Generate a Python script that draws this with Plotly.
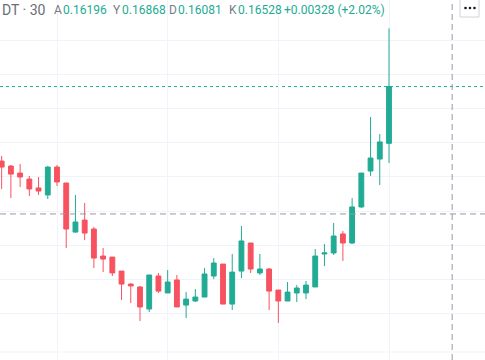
import plotly.graph_objects as go

W, H = 485, 360

# ---- data (bar index, OHLC) ----
bars = list(range(43))
opens = [0.16092, 0.16063, 0.16022, 0.15987, 0.15935, 0.15894, 0.16057, 0.15964, 0.15677, 0.15747,
         0.15695, 0.15537, 0.15531, 0.15449, 0.15373, 0.15356, 0.15227, 0.15420, 0.15321, 0.15397,
         0.15250, 0.15274, 0.15297, 0.15420, 0.15490, 0.15256, 0.15449, 0.15613, 0.15438, 0.15461,
         0.15338, 0.15274, 0.15321, 0.15321, 0.15356, 0.15549, 0.15555, 0.15666, 0.15613, 0.15824,
         0.16034, 0.16104, 0.16196]
highs = [0.16122, 0.16069, 0.16075, 0.16005, 0.15999, 0.16063, 0.16069, 0.15964, 0.15894, 0.15847,
         0.15707, 0.15584, 0.15531, 0.15449, 0.15379, 0.15362, 0.15426, 0.15438, 0.15455, 0.15426,
         0.15326, 0.15344, 0.15467, 0.15525, 0.15490, 0.15549, 0.15712, 0.15613, 0.15549, 0.15467,
         0.15338, 0.15385, 0.15367, 0.15391, 0.15578, 0.15607, 0.15730, 0.15683, 0.15876, 0.16022,
         0.16350, 0.16250, 0.16868]
lows = [0.15929, 0.15876, 0.15940, 0.15888, 0.15894, 0.15870, 0.15946, 0.15584, 0.15674, 0.15630,
        0.15467, 0.15443, 0.15420, 0.15280, 0.15262, 0.15157, 0.15209, 0.15321, 0.15321, 0.15239,
        0.15174, 0.15268, 0.15297, 0.15402, 0.15256, 0.15221, 0.15408, 0.15438, 0.15426, 0.15221,
        0.15145, 0.15274, 0.15268, 0.15285, 0.15356, 0.15478, 0.15543, 0.15508, 0.15607, 0.15818,
        0.16005, 0.15952, 0.16081]
closes = [0.16057, 0.16016, 0.15999, 0.15929, 0.15917, 0.16057, 0.15970, 0.15695, 0.15736, 0.15671,
          0.15525, 0.15519, 0.15438, 0.15373, 0.15362, 0.15239, 0.15426, 0.15332, 0.15385, 0.15239,
          0.15285, 0.15297, 0.15432, 0.15496, 0.15256, 0.15443, 0.15625, 0.15461, 0.15461, 0.15332,
          0.15274, 0.15326, 0.15350, 0.15367, 0.15537, 0.15555, 0.15654, 0.15613, 0.15824, 0.16022,
          0.16110, 0.16204, 0.16528]

symbol_label = "DT · 30"
ohlc_letters = ["A", "Y", "D", "K"]
change_text = "+0.00328 (+2.02%)"

grid_prices = [0.152, 0.154, 0.156, 0.158, 0.160, 0.162, 0.164, 0.166, 0.168]
grid_bars = [6, 18, 30, 42]
crosshair_bar = 48.85
crosshair_price = 0.15783

UP = "#22AB94"
DOWN = "#F7525F"
GRID = "#F0F3FA"
LABEL = "#787B86"

fig = go.Figure()
fig.add_trace(go.Candlestick(
    x=bars, open=opens, high=highs, low=lows, close=closes,
    increasing=dict(line=dict(color=UP, width=1), fillcolor=UP),
    decreasing=dict(line=dict(color=DOWN, width=1), fillcolor=DOWN),
    whiskerwidth=0, showlegend=False, hoverinfo="skip",
))

def px(x, y):
    return x / W, 1 - y / H

shapes = []
# price line at last close
shapes.append(dict(type="line", xref="paper", x0=0, x1=1, yref="y",
                   y0=closes[-1], y1=closes[-1],
                   line=dict(color=UP, width=1, dash="dot"), layer="below"))
# bottom pane border
shapes.append(dict(type="line", xref="paper", x0=0, x1=1, yref="paper",
                   y0=1 - 352 / H, y1=1 - 352 / H,
                   line=dict(color=GRID, width=1), layer="below"))
# crosshair
shapes.append(dict(type="line", xref="paper", x0=0, x1=1, yref="y",
                   y0=crosshair_price, y1=crosshair_price,
                   line=dict(color="#9598A1", width=1, dash="6px,4px")))
shapes.append(dict(type="line", xref="x", x0=crosshair_bar, x1=crosshair_bar, yref="paper",
                   y0=0, y1=1, line=dict(color="#9598A1", width=1, dash="6px,4px")))
# "..." button
x0, y0 = px(460, -4)
x1, y1 = px(479, 17)
shapes.append(dict(type="rect", xref="paper", yref="paper", x0=x0, x1=x1, y0=y1, y1=y0,
                   fillcolor="white", line=dict(color="#D1D4DC", width=1)))
for cx in (465.5, 470, 474.5):
    a, b = px(cx - 1.3, 6.7)
    c, d = px(cx + 1.3, 9.3)
    shapes.append(dict(type="circle", xref="paper", yref="paper", x0=a, x1=c, y0=d, y1=b,
                       fillcolor="#131722", line=dict(width=0)))

annotations = []
def txt(x, s, color, size, family="Roboto, sans-serif"):
    annotations.append(dict(x=x / W, y=1 - 10 / H, xref="paper", yref="paper", text=s,
                            showarrow=False, xanchor="left", yanchor="middle",
                            font=dict(color=color, size=size, family=family)))

txt(0, symbol_label, "#6A6D78", 14)
vals = [opens[-1], highs[-1], lows[-1], closes[-1]]
letter_x = [52, 111, 167, 227]
for lx, letter, v in zip(letter_x, ohlc_letters, vals):
    txt(lx, letter, LABEL, 12)
    txt(lx + 8.5, f"{v:.5f}", UP, 12)
txt(282, change_text, UP, 12)

fig.update_layout(
    width=W, height=H, margin=dict(l=0, r=0, t=0, b=0),
    paper_bgcolor="white", plot_bgcolor="white",
    boxgap=0.25,
    shapes=shapes, annotations=annotations,
    xaxis=dict(range=[-0.181, 52.41], rangeslider=dict(visible=False),
               tickvals=grid_bars, showticklabels=False, showgrid=True,
               gridcolor=GRID, zeroline=False, showline=False, ticks=""),
    yaxis=dict(range=[0.14929, 0.17034], tickvals=grid_prices, showticklabels=False,
               showgrid=True, gridcolor=GRID, zeroline=False, showline=False, ticks=""),
)
fig.write_html("out.html", config={"displayModeBar": False},
               post_script="document.body.style.margin='0px';document.body.style.overflow='hidden';")
